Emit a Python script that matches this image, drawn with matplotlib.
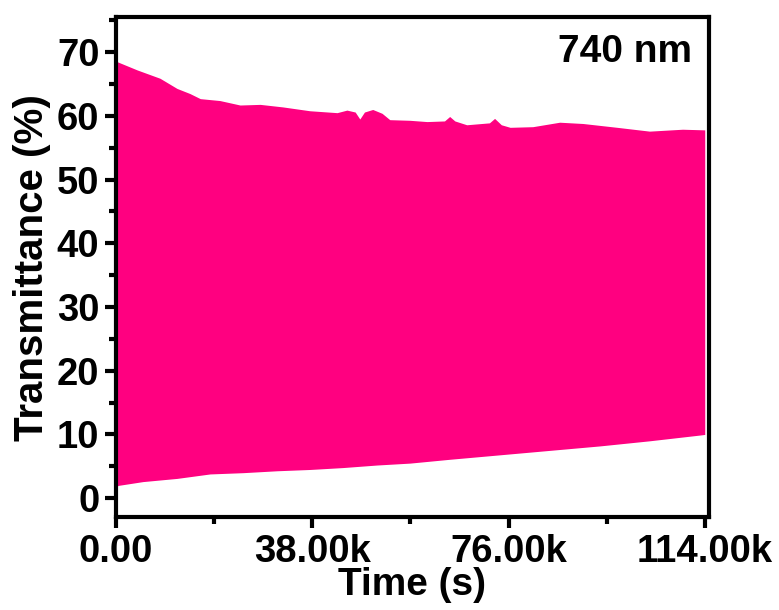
import matplotlib
matplotlib.use("Agg")
import matplotlib.pyplot as plt
from matplotlib.ticker import MultipleLocator, FuncFormatter
import numpy as np

# Upper envelope (time in s, transmittance in %)
upper_t = [0, 200, 4100, 8500, 11800, 14300, 16300, 20100, 24000, 27900, 32300,
           37500, 42800, 44700, 46300, 47200, 48100, 49700, 51500, 53000, 56900,
           60200, 63600, 64600, 65600, 67900, 72300, 73300, 74600, 76300, 80700,
           85900, 90400, 97000, 103300, 109700, 114000]
upper_v = [68.6, 68.5, 67.2, 65.9, 64.3, 63.5, 62.7, 62.4, 61.7, 61.8, 61.4,
           60.8, 60.5, 60.9, 60.6, 59.5, 60.6, 61.0, 60.4, 59.4, 59.3,
           59.1, 59.2, 59.9, 59.2, 58.6, 58.9, 59.6, 58.6, 58.2, 58.3,
           59.0, 58.8, 58.2, 57.6, 57.9, 57.8]

# Lower envelope
lower_t = [0, 400, 5200, 11800, 18200, 24600, 31200, 37500, 43900, 50500,
           56900, 64600, 74300, 84000, 93700, 103300, 113000, 114000]
lower_v = [1.8, 2.0, 2.6, 3.1, 3.8, 4.0, 4.3, 4.5, 4.8, 5.2,
           5.5, 6.1, 6.8, 7.5, 8.2, 9.0, 9.9, 10.0]

t = np.linspace(0, 114000, 3000)
up = np.interp(t, upper_t, upper_v)
lo = np.interp(t, lower_t, lower_v)

color = "#FF0080"
plt.rcParams['font.family'] = ['Liberation Sans', 'DejaVu Sans']
plt.rcParams['font.weight'] = 'bold'

fig = plt.figure(figsize=(7.79, 6.10), dpi=100)
ax = fig.add_axes([0.149, 0.152, 0.761, 0.820])
ax.fill_between(t, lo, up, color=color, linewidth=0)

ax.set_xlim(0, 114800)
ax.set_ylim(-3, 75.5)
ax.xaxis.set_major_locator(MultipleLocator(38000))
ax.xaxis.set_minor_locator(MultipleLocator(19000))
ax.yaxis.set_major_locator(MultipleLocator(10))
ax.yaxis.set_minor_locator(MultipleLocator(5))
ax.xaxis.set_major_formatter(FuncFormatter(lambda v, p: f"{v/1000:.2f}k" if v != 0 else "0.00"))

for s in ax.spines.values():
    s.set_linewidth(3)
ax.tick_params(which='major', direction='out', length=8, width=3, labelsize=27.5, pad=4)
ax.tick_params(which='minor', direction='out', length=5, width=3)
for lab in ax.get_xticklabels() + ax.get_yticklabels():
    lab.set_fontweight('bold')

ax.set_xlabel("Time (s)", fontsize=28, fontweight='bold', labelpad=-2)
ax.set_ylabel("Transmittance (%)", fontsize=29, fontweight='bold', labelpad=4)
ax.text(0.971, 0.91, "740 nm", transform=ax.transAxes, ha='right', va='baseline',
        fontsize=28, fontweight='bold')

fig.savefig("out.png", dpi=100)
